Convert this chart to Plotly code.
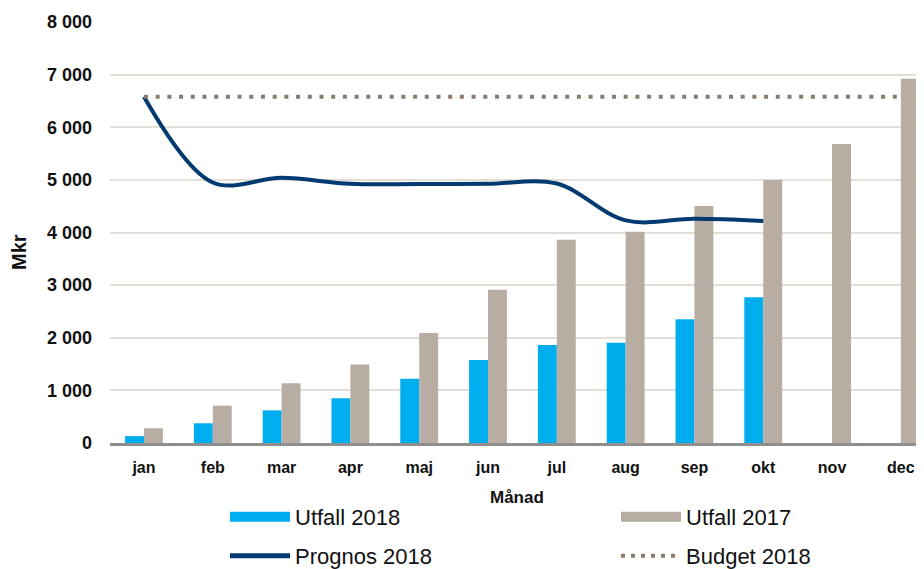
import plotly.graph_objects as go

months = ["jan", "feb", "mar", "apr", "maj", "jun", "jul", "aug", "sep", "okt", "nov", "dec"]
utfall_2018 = [130, 375, 620, 850, 1220, 1575, 1860, 1905, 2350, 2770, None, None]
utfall_2017 = [280, 710, 1135, 1490, 2090, 2910, 3860, 4015, 4505, 5000, 5680, 6920]
prognos_2018 = [6580, 4950, 5040, 4925, 4920, 4925, 4930, 4230, 4260, 4220, None, None]
budget_2018 = [6580] * 12

C_BLUE = "#00AEEF"
C_GRAY = "#B8ADA2"
C_NAVY = "#003A70"
C_DOT = "#8C7B6B"
FONT = "Liberation Sans"

# the page body has an 8px margin; the figure fills the visible part of the window
OFF = 8
W, H = 924 - 2 * OFF, 569 - OFF

# plot area in window pixels
PL, PT, PB = 110, 22, 443
L, T, B = PL - OFF, PT - OFF, H - (PB - OFF)
PW, PH = W - L, H - T - B


def cx(px):  # window px -> container fraction
    return (px - OFF) / W


def cy(py):
    return 1 - (py - OFF) / H


def ax(px):  # window px -> paper fraction
    return (px - OFF - L) / PW


def ay(py):
    return (H - B - (py - OFF)) / PH


fig = go.Figure()
fig.add_trace(go.Bar(x=months, y=utfall_2018, name="Utfall 2018", marker_color=C_BLUE,
                     marker_line_width=0, showlegend=False))
fig.add_trace(go.Bar(x=months, y=utfall_2017, name="Utfall 2017", marker_color=C_GRAY,
                     marker_line_width=0, showlegend=False))
fig.add_trace(go.Scatter(x=months, y=prognos_2018, name="Prognos 2018", mode="lines",
                         line=dict(color=C_NAVY, width=4, shape="spline", smoothing=1.0),
                         showlegend=False))
fig.add_trace(go.Scatter(x=months, y=budget_2018, name="Budget 2018", mode="lines",
                         line=dict(color=C_DOT, width=4, dash="4px,7.7px"),
                         showlegend=False))

# legend entries
fig.add_trace(go.Scatter(x=[None], y=[None], name="Utfall 2018", mode="lines",
                         line=dict(color=C_BLUE, width=13), legend="legend"))
fig.add_trace(go.Scatter(x=[None], y=[None], name="Utfall 2017", mode="lines",
                         line=dict(color=C_GRAY, width=13), legend="legend"))
fig.add_trace(go.Scatter(x=[None], y=[None], name="Prognos 2018", mode="lines",
                         line=dict(color=C_NAVY, width=5), legend="legend2"))
fig.add_trace(go.Scatter(x=[None], y=[None], name="Budget 2018", mode="lines",
                         line=dict(color=C_DOT, width=4, dash="4px,6px"), legend="legend2"))

legend_common = dict(orientation="h", xanchor="left", yanchor="middle",
                     xref="container", yref="container",
                     font=dict(family=FONT, size=22, color="#111111"),
                     itemwidth=60, entrywidthmode="pixels", entrywidth=316,
                     bgcolor="rgba(0,0,0,0)", traceorder="normal")

fig.update_layout(
    width=W, height=H,
    margin=dict(l=L, r=0, t=T, b=B, autoexpand=False),
    paper_bgcolor="white", plot_bgcolor="white",
    barmode="group", bargap=0.45, bargroupgap=0,
    separators=", ",
    font=dict(family=FONT, color="#111111"),
    legend=dict(x=cx(225), y=cy(517), **legend_common),
    legend2=dict(x=cx(225), y=cy(556), **legend_common),
    xaxis=dict(range=[-0.494, 11.22], showgrid=False, showline=True,
               linecolor="#8E8E8E", linewidth=2.5, ticks="",
               tickfont=dict(family=FONT, size=16, weight="bold", color="#111111"),
               ticklabelstandoff=8, fixedrange=True),
    yaxis=dict(range=[0, 8000], dtick=1000, tickformat=",d", showgrid=True,
               gridcolor="#E3DED6", gridwidth=1.5, zeroline=False, ticks="",
               tickfont=dict(family=FONT, size=18, weight="bold", color="#111111"),
               ticklabelstandoff=17, fixedrange=True),
    annotations=[
        dict(text="<b>Mkr</b>", x=ax(19), y=ay(252), xref="paper", yref="paper",
             textangle=-90, showarrow=False, xanchor="center", yanchor="middle",
             font=dict(family=FONT, size=20, color="#111111")),
        dict(text="<b>Månad</b>", x=ax(517), y=ay(497), xref="paper", yref="paper",
             showarrow=False, xanchor="center", yanchor="middle",
             font=dict(family=FONT, size=17, color="#111111")),
    ],
)

fig.write_html("out.html")
